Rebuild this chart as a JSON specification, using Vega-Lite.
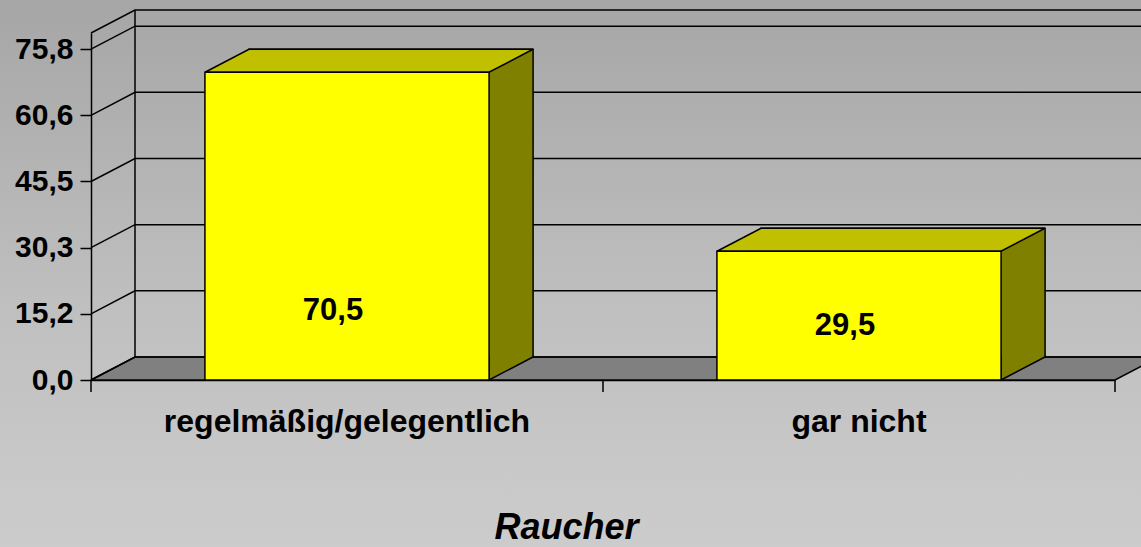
{
  "$schema": "https://vega.github.io/schema/vega-lite/v6.json",
  "width": 1141,
  "height": 547,
  "padding": 0,
  "autosize": "none",
  "background": "#bbbbbb",
  "view": {"stroke": null, "fill": {"gradient": "linear", "x1": 0, "y1": 0, "x2": 0, "y2": 1, "stops": [{"offset": 0, "color": "#a6a6a6"}, {"offset": 0.55, "color": "#bfbfbf"}, {"offset": 1, "color": "#cccccc"}]}},
  "config": {
    "font": "Liberation Sans",
    "locale": {"number": {"decimal": ",", "thousands": ".", "grouping": [3], "currency": ["", " €"]}}
  },
  "datasets": {
    "smoker": [
      {"Raucher": "regelmäßig/gelegentlich", "Anteil": 70.5},
      {"Raucher": "gar nicht", "Anteil": 29.5}
    ],
    "wall": [{"v": 0}, {"v": 15.16}, {"v": 30.32}, {"v": 45.48}, {"v": 60.64}, {"v": 75.8}, {"v": 79.5}]
  },
  "data": {"name": "smoker"},
  "resolve": {"scale": {"y": "independent"}},
  "layer": [
    {
      "resolve": {"axis": {"y": "independent"}},
      "layer": [
        {
          "data": {"values": [{}]},
          "mark": {"type": "point", "shape": "M-256,0 L768,0 L812,-23 L-212,-23 Z M-256,0 L-256,12 M256,0 L256,12 M768,0 L768,12", "size": 4, "filled": true, "fill": "#808080", "stroke": "black", "strokeWidth": 1.5, "opacity": 1},
          "encoding": {
            "x": {"datum": "regelmäßig/gelegentlich", "type": "nominal", "scale": {"type": "band", "domain": ["regelmäßig/gelegentlich", "gar nicht"], "range": [91, 1115], "paddingInner": 0.445, "paddingOuter": 0.2225}},
            "y": {"datum": 0, "type": "quantitative", "scale": {"domain": [0, 79.5], "range": [380, 33], "nice": false, "zero": false}, "axis": null}
          }
        },
        {
          "data": {"name": "wall"},
          "mark": {"type": "point", "shape": "M-256,0 L-212,-23 L812,-23", "size": 4, "filled": false, "stroke": "black", "strokeWidth": 1.5, "opacity": 1},
          "encoding": {
            "x": {"datum": "regelmäßig/gelegentlich", "type": "nominal"},
            "y": {"field": "v", "type": "quantitative", "scale": {"domain": [0, 79.5], "range": [380, 33], "nice": false, "zero": false},
              "axis": {"orient": "left", "offset": -91, "translate": 44, "position": -67, "values": [0, 79.5], "grid": false, "ticks": false, "labels": false, "domain": true, "domainColor": "black", "domainWidth": 1.5, "title": null}}
          }
        },
        {
          "mark": {"type": "bar", "xOffset": 44, "x2Offset": 44, "yOffset": -23, "y2Offset": -23, "fill": "#808000", "stroke": "black", "strokeWidth": 1.5},
          "encoding": {
            "x": {"field": "Raucher", "type": "nominal", "sort": null},
            "y": {"field": "Anteil", "type": "quantitative", "axis": null}
          }
        },
        {
          "mark": {"type": "point", "shape": "M-142,0 L142,0 L186,-23 L-98,-23 Z", "size": 4, "filled": true, "fill": "#c0c000", "stroke": "black", "strokeWidth": 1.5, "opacity": 1},
          "encoding": {
            "x": {"field": "Raucher", "type": "nominal", "sort": null},
            "y": {"field": "Anteil", "type": "quantitative", "axis": null}
          }
        },
        {
          "mark": {"type": "point", "shape": "M142,-25 L142,0 L186,-23 L186,-25", "size": 4, "filled": true, "fill": "#808000", "stroke": "black", "strokeWidth": 1.5, "opacity": 1},
          "encoding": {
            "x": {"field": "Raucher", "type": "nominal", "sort": null},
            "y": {"datum": 0, "type": "quantitative", "axis": null}
          }
        },
        {
          "mark": {"type": "bar", "fill": "#ffff00", "stroke": "black", "strokeWidth": 1.5},
          "encoding": {
            "x": {"field": "Raucher", "type": "nominal", "sort": null,
              "axis": {"orient": "bottom", "offset": -167, "ticks": true, "tickSize": 12, "tickOpacity": 0, "domainColor": "black", "domainWidth": 1.5, "labelAngle": 0, "labelFont": "Liberation Sans", "labelFontSize": 32, "labelFontWeight": "bold", "labelColor": "black", "labelPadding": 39, "labelBaseline": "alphabetic", "labelAlign": "center", "labelLimit": 0, "title": "Raucher", "titleFont": "Liberation Sans", "titleFontSize": 36, "titleFontWeight": "bold", "titleFontStyle": "italic", "titleColor": "black", "titleX": 566, "titleY": 158.5, "titleBaseline": "alphabetic", "titleAlign": "center"}},
            "y": {"field": "Anteil", "type": "quantitative",
              "axis": {"orient": "left", "offset": -91, "values": [0, 15.16, 30.32, 45.48, 60.64, 75.8], "format": ".1f", "grid": false, "domainColor": "black", "domainWidth": 1.5, "tickColor": "black", "tickSize": 11, "tickWidth": 1.5, "labelFont": "Liberation Sans", "labelFontSize": 30, "labelFontWeight": "bold", "labelColor": "black", "labelPadding": 7, "title": null}}
          }
        }
      ]
    },
    {
      "mark": {"type": "text", "font": "Liberation Sans", "fontSize": 31, "fontWeight": "bold", "color": "black", "align": "center", "baseline": "middle", "xOffset": -14},
      "encoding": {
        "x": {"field": "Raucher", "type": "nominal", "sort": null},
        "y": {"field": "Anteil", "type": "quantitative", "scale": {"domain": [29.5, 70.5], "range": [326, 311], "nice": false, "zero": false}, "axis": null},
        "text": {"field": "Anteil", "type": "quantitative", "format": ".1f"}
      }
    }
  ]
}
